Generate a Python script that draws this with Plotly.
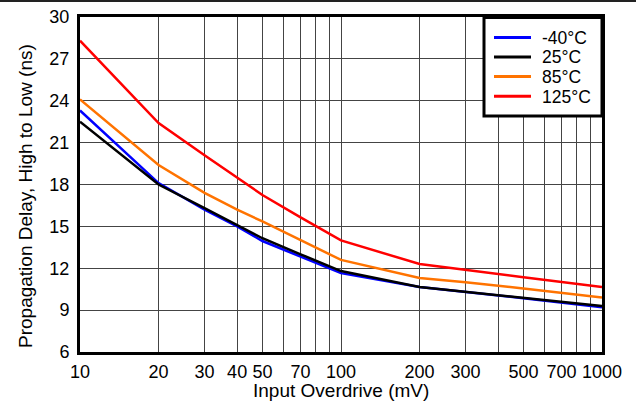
import plotly.graph_objects as go

overdrive_mv = [10, 20, 30, 40, 50, 70, 100, 200, 300, 500, 1000]
delay_m40 = [23.3, 18.1, 16.2, 15.0, 13.95, 12.85, 11.65, 10.65, 10.3, 9.85, 9.2]
delay_25 = [22.5, 18.0, 16.3, 15.1, 14.15, 13.0, 11.8, 10.65, 10.3, 9.9, 9.3]
delay_85 = [24.1, 19.4, 17.4, 16.2, 15.35, 14.0, 12.6, 11.3, 11.0, 10.55, 9.9]
delay_125 = [28.3, 22.4, 20.1, 18.5, 17.25, 15.65, 14.0, 12.3, 11.9, 11.35, 10.65]

series_names = ["-40°C", "25°C", "85°C", "125°C"]
series_colors = ["#0000ff", "#000000", "#ff7300", "#ff0000"]

x_grid = [10, 20, 30, 40, 50, 60, 70, 80, 90, 100, 200, 300, 400, 500, 600, 700, 800, 900, 1000]
x_labels = ["10", "20", "30", "40", "50", "", "70", "", "", "100", "200", "300", "", "500", "", "700", "", "", "1000"]
y_ticks = [6, 9, 12, 15, 18, 21, 24, 27, 30]

font_family = "Liberation Sans, Arial, sans-serif"

W, H = 636, 405
ML, MR, MT, MB = 80, 34, 17, 53
PW, PH = W - ML - MR, H - MT - MB


def px(x):
    return (x - ML) / PW


def py(y):
    return (H - MB - y) / PH


fig = go.Figure()
for name, vals, col in zip(series_names, [delay_m40, delay_25, delay_85, delay_125], series_colors):
    fig.add_trace(go.Scatter(x=overdrive_mv, y=vals, mode="lines", name=name,
                             line=dict(color=col, width=2.5), showlegend=False))

shapes = [
    dict(type="line", xref="paper", yref="paper", x0=px(-5), x1=px(W + 5),
         y0=py(1), y1=py(1), line=dict(color="#222222", width=2), layer="above"),
    dict(type="rect", xref="paper", yref="paper", x0=px(484), x1=px(602),
         y0=py(116), y1=py(17.5), fillcolor="white", line=dict(color="black", width=3), layer="above"),
]
annotations = []
legend_rows = [37.5, 57.0, 76.5, 96.3]
for name, col, ry in zip(series_names, series_colors, legend_rows):
    shapes.append(dict(type="line", xref="paper", yref="paper", x0=px(494), x1=px(531),
                       y0=py(ry), y1=py(ry), line=dict(color=col, width=3), layer="above"))
    annotations.append(dict(text=name, xref="paper", yref="paper", x=px(540), y=py(ry + 0.5),
                            xanchor="left", yanchor="middle", showarrow=False,
                            font=dict(size=17.5, color="black")))

annotations.append(dict(text="Input Overdrive (mV)", xref="paper", yref="paper",
                        x=px(341), y=py(390), xanchor="center", yanchor="middle",
                        showarrow=False, font=dict(size=19)))
annotations.append(dict(text="Propagation Delay, High to Low (ns)", xref="paper", yref="paper",
                        x=px(25), y=py(196), xanchor="center", yanchor="middle", textangle=-90,
                        showarrow=False, font=dict(size=19)))

fig.update_layout(
    width=W, height=H,
    margin=dict(l=ML, r=MR, t=MT, b=MB, autoexpand=False),
    paper_bgcolor="white", plot_bgcolor="white",
    font=dict(family=font_family, size=18, color="black"),
    showlegend=False,
    shapes=shapes,
    annotations=annotations,
)
fig.update_xaxes(type="log", range=[1, 3], tickmode="array", tickvals=x_grid, ticktext=x_labels,
                 showgrid=True, gridcolor="#444444", gridwidth=1,
                 showline=True, linecolor="black", linewidth=3, mirror=True,
                 ticks="", ticklabelstandoff=1, automargin=False, tickfont=dict(size=18))
fig.update_yaxes(range=[6, 30], tickmode="array", tickvals=y_ticks,
                 showgrid=True, gridcolor="#444444", gridwidth=1,
                 showline=True, linecolor="black", linewidth=3, mirror=True,
                 ticks="", zeroline=False, ticklabelstandoff=4, automargin=False, tickfont=dict(size=18))

fig.write_html("out.html", config={"displayModeBar": False},
               post_script="document.body.style.margin='0';document.body.style.overflow='hidden';")
